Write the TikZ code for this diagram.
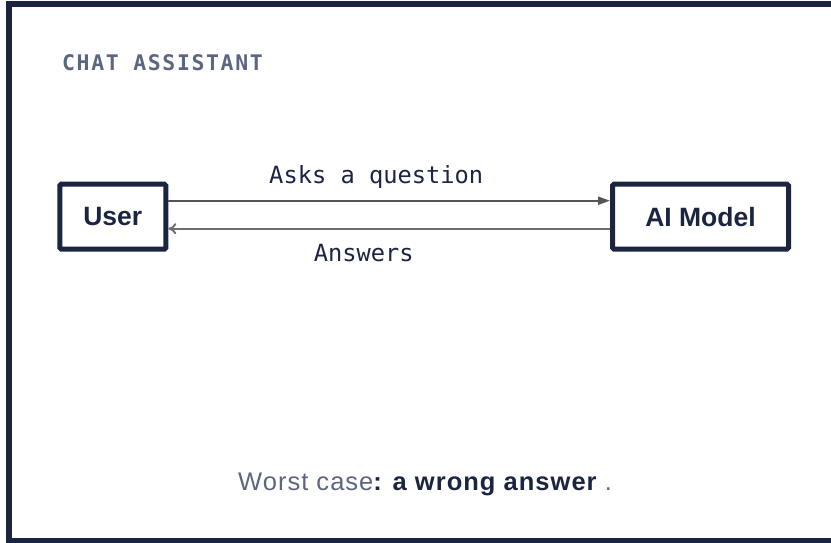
\documentclass[tikz,border=0pt]{standalone}
\usepackage{fontspec}
\setmainfont{Liberation Sans}
\newfontfamily\monofont{DejaVu Sans Mono}
\newfontfamily\titlefont[LetterSpace=7.5]{DejaVu Sans Mono}
\newfontfamily\bodyfont[LetterSpace=4]{Liberation Sans}
\usetikzlibrary{positioning,arrows.meta}
\definecolor{navy}{HTML}{1B2541}
\definecolor{slate}{HTML}{5B6680}
\definecolor{wiregray}{HTML}{555555}

\begin{document}
\begin{tikzpicture}[x=1pt,y=1pt]
\tikzstyle{box}=[
	rectangle,
	draw=navy,
	line width=5pt,
	rounded corners=1.5pt,
	minimum height=65pt,
	text=navy,
	font=\fontsize{26.5}{30}\selectfont\bfseries ]
\tikzstyle{lbl}=[inner sep=0pt, text=navy, font=\monofont\fontsize{23.7}{28}\selectfont]
\tikzstyle{wire}=[draw=wiregray, line width=1.9pt]
\useasboundingbox (0,0) rectangle (831,543);
\clip (0,0) rectangle (831,543);
\draw[navy, line width=6pt] (9,1.5) rectangle (845,538.5);

\node[inner sep=0pt, anchor=base west, text=slate,
  font=\titlefont\bfseries\fontsize{21.5}{26}\selectfont] (title) at (62,472.3) {CHAT ASSISTANT};

\node[box, minimum width=106pt] (user) at (112.8,326.3) {User};
\node[box, minimum width=176pt, right=441.7pt of user] (model) {AI Model};

\draw[wire, -{Triangle[length=12pt,width=8pt]}] ([yshift=16pt]user.east) --
  node[lbl, anchor=base, yshift=17.4pt, xshift=-12.9pt] {Asks a question} ([yshift=16pt]model.west);
\draw[wire, draw=wiregray!85, -{To[length=8pt,width=11pt]}] ([yshift=-12pt]model.west) --
  node[lbl, anchor=base, yshift=-33pt, xshift=-25.4pt] {Answers} ([yshift=-12pt]user.east);

\node[inner sep=0pt, anchor=base west, text=slate,
  font=\bodyfont\fontsize{25.5}{30}\selectfont] (note) at (238,52.3)
  {Worst case\textcolor{navy}{\bfseries: a wrong answer} .};
\end{tikzpicture}
\end{document}
